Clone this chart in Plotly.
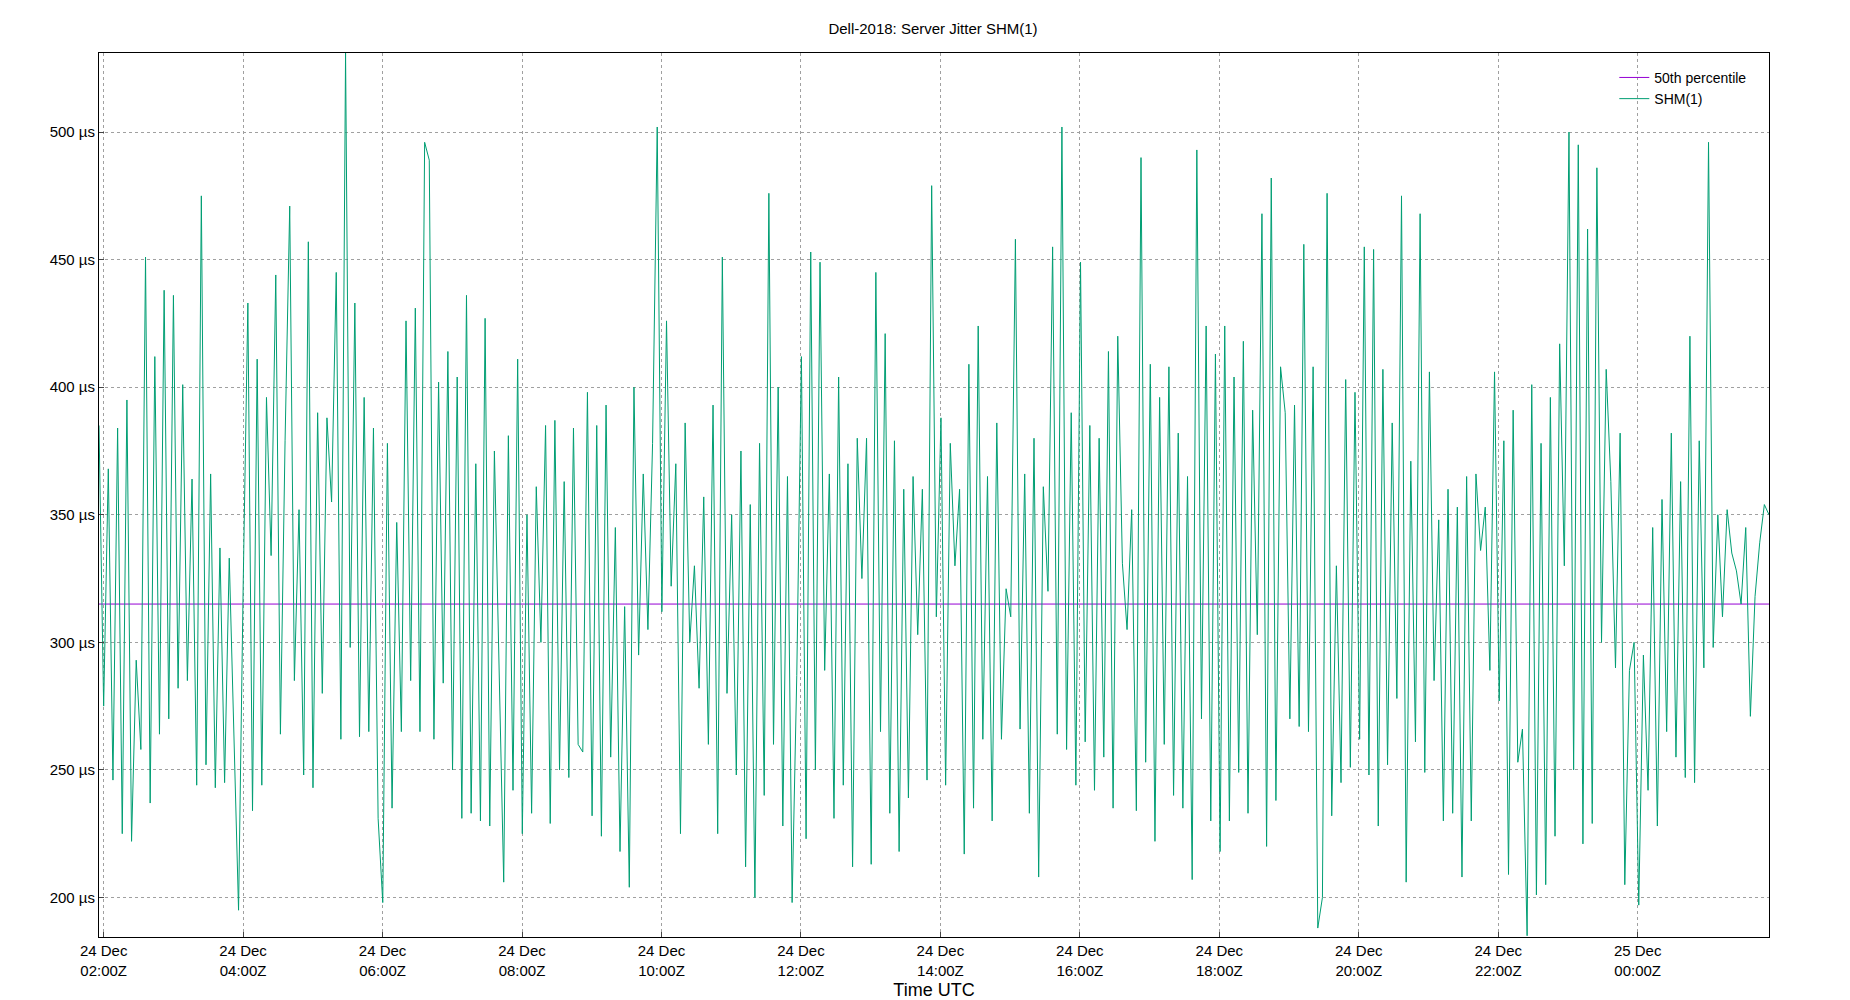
import pandas as pd
import plotly.graph_objects as go

# jitter samples (µs), read roughly left to right, ~4 min apart
jitter = [
    385, 275, 368, 246, 384, 225, 395, 222, 293, 258, 451, 237, 412, 264, 438,
    270, 436, 282, 401, 285, 364, 244, 475, 252, 366, 243, 337, 245, 333, 265,
    195, 323, 433, 234, 411, 244, 396, 334, 444, 264, 379, 471, 285, 352, 248,
    457, 243, 390, 280, 388, 355, 445, 262, 531, 298, 433, 263, 396, 265, 384,
    231, 198, 378, 235, 347, 265, 426, 285, 431, 265, 496, 489, 262, 402, 284,
    414, 250, 404, 231, 436, 233, 370, 230, 427, 228, 375, 288, 206, 381, 242,
    411, 225, 350, 233, 361, 300, 385, 229, 387, 250, 363, 247, 384, 260, 257,
    398, 232, 385, 224, 393, 255, 345, 218, 314, 204, 400, 295, 366, 305, 378,
    502, 312, 426, 322, 370, 225, 386, 300, 330, 282, 357, 260, 393, 225, 451,
    280, 350, 248, 375, 212, 354, 200, 378, 240, 476, 260, 400, 228, 365, 198,
    287, 412, 223, 453, 250, 449, 289, 366, 231, 404, 244, 370, 212, 380, 325,
    380, 213, 445, 265, 421, 233, 379, 218, 360, 239, 365, 303, 360, 246, 479,
    310, 388, 244, 378, 330, 360, 217, 409, 235, 424, 262, 365, 230, 386, 262,
    321, 310, 458, 266, 366, 233, 380, 208, 361, 320, 455, 264, 502, 258, 390,
    244, 449, 261, 385, 242, 380, 255, 414, 235, 420, 331, 305, 352, 234, 490,
    253, 409, 222, 396, 260, 408, 240, 382, 235, 365, 207, 493, 270, 424, 230,
    413, 218, 424, 230, 404, 249, 418, 233, 391, 303, 468, 220, 482, 238, 408,
    390, 270, 393, 267, 456, 265, 408, 188, 200, 476, 232, 330, 245, 403, 251,
    398, 262, 455, 248, 454, 228, 407, 252, 386, 278, 475, 206, 371, 261, 468,
    249, 406, 285, 348, 230, 360, 233, 353, 208, 365, 230, 366, 336, 353, 289,
    406, 277, 379, 209, 391, 253, 266, 185, 401, 201, 378, 205, 396, 224, 417,
    330, 500, 250, 495, 221, 462, 229, 486, 300, 407, 363, 290, 382, 205, 289,
    300, 197, 295, 242, 345, 228, 356, 265, 382, 255, 363, 247, 420, 245, 379,
    290, 496, 298, 350, 310, 352, 335, 328, 315, 345, 271, 318, 339, 354, 350,
]
median = 315
start = "2018-12-24 01:56"
end = "2018-12-25 01:53"
y_ticks = [200, 250, 300, 350, 400, 450, 500]

times = pd.date_range(start, end, periods=len(jitter))
tick_times = pd.date_range("2018-12-24 02:00", "2018-12-25 00:00", freq="2h")
tick_text = [t.strftime("%d %b<br>%H:%MZ") for t in tick_times]

fig = go.Figure()
fig.add_trace(go.Scatter(
    x=[times[0], times[-1]], y=[median, median], mode="lines",
    name="50th percentile", line=dict(color="#9400d3", width=1)
))
fig.add_trace(go.Scatter(
    x=times, y=jitter, mode="lines", name="SHM(1)",
    line=dict(color="#009e73", width=1)
))

axis_style = dict(showline=True, linecolor="black", mirror=True, ticks="inside",
                  showgrid=True, gridcolor="#a0a0a0", griddash="dot", zeroline=False)
fig.update_layout(
    width=1850, height=1000,
    title=dict(text="Dell-2018: Server Jitter SHM(1)", x=0.5, y=0.985,
               font=dict(size=15)),
    font=dict(family="Liberation Sans, Arial", size=15, color="black"),
    plot_bgcolor="white", paper_bgcolor="white",
    margin=dict(l=91, r=89, t=45, b=66),
    xaxis=dict(axis_style, range=[times[0], times[-1]], tickvals=tick_times,
               ticktext=tick_text, title=dict(text="Time UTC", standoff=5)),
    yaxis=dict(axis_style, range=[184.5, 531], tickvals=y_ticks,
               ticktext=[f"{v} µs" for v in y_ticks]),
    legend=dict(x=0.99, y=0.99, xanchor="right", yanchor="top",
                bgcolor="rgba(0,0,0,0)", font=dict(size=14)),
)

fig.write_html("out.html")
